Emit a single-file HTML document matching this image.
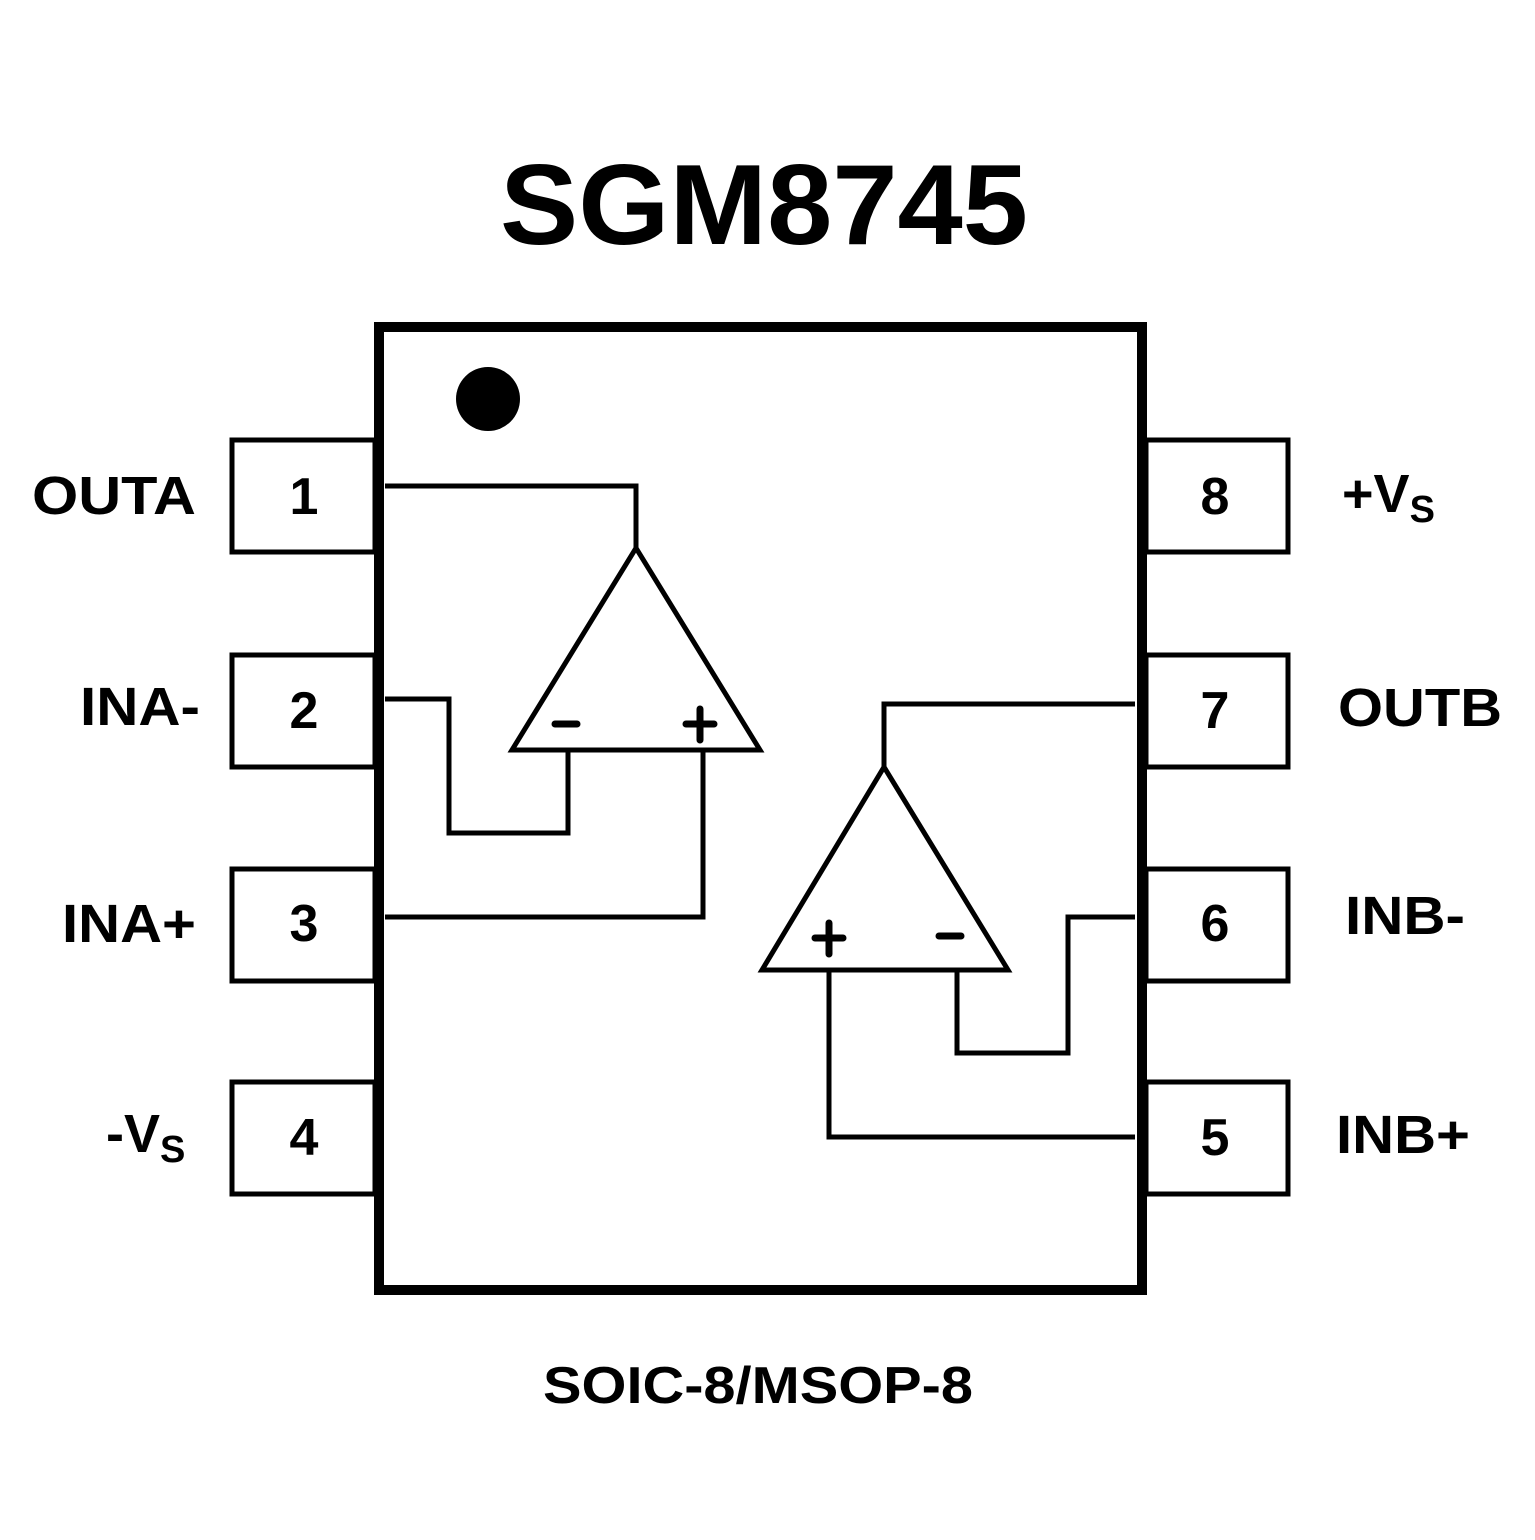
<!DOCTYPE html>
<html><head><meta charset="utf-8"><style>html,body{margin:0;padding:0;background:#fff}</style></head>
<body>
<svg width="1535" height="1535" viewBox="0 0 1535 1535" xmlns="http://www.w3.org/2000/svg" font-family="'Liberation Sans',Arial,sans-serif" font-weight="bold">
<rect width="1535" height="1535" fill="#fff"/>
<text x="500" y="244" font-size="114" textLength="528" lengthAdjust="spacingAndGlyphs">SGM8745</text>
<g fill="none" stroke="#000" stroke-linejoin="miter">
<rect x="379" y="327" width="763" height="963" stroke-width="10"/>
<g stroke-width="5">
<rect x="232" y="440" width="143" height="112"/>
<rect x="232" y="655" width="143" height="112"/>
<rect x="232" y="869" width="143" height="112"/>
<rect x="232" y="1082" width="143" height="112"/>
<rect x="1146" y="440" width="142" height="112"/>
<rect x="1146" y="655" width="142" height="112"/>
<rect x="1146" y="869" width="142" height="112"/>
<rect x="1146" y="1082" width="142" height="112"/>
<polygon points="636,548 512,750 760,750"/>
<polyline points="385,486 636,486 636,548"/>
<polyline points="568,750 568,833 449,833 449,699 385,699"/>
<polyline points="703,750 703,917 385,917"/>
<polygon points="884,767 762,970 1008,970"/>
<polyline points="884,767 884,704 1135,704"/>
<polyline points="829,970 829,1137 1135,1137"/>
<polyline points="957,970 957,1053 1068,1053 1068,917 1135,917"/>
</g>
<g stroke-width="7" stroke-linecap="round">
<path d="M555 724H577"/>
<path d="M686 724H714M700 709V740"/>
<path d="M815 938H843M829 923V954"/>
<path d="M939 936H961"/>
</g>
</g>
<circle cx="488" cy="399" r="32" fill="#000"/>
<g font-size="52" text-anchor="middle">
<text x="304" y="514">1</text><text x="304" y="728">2</text><text x="304" y="941">3</text><text x="304" y="1155">4</text>
<text x="1215" y="514">8</text><text x="1215" y="728">7</text><text x="1215" y="941">6</text><text x="1215" y="1155">5</text>
</g>
<g font-size="54">
<text x="32" y="514" textLength="164" lengthAdjust="spacingAndGlyphs">OUTA</text>
<text x="80" y="725" textLength="120" lengthAdjust="spacingAndGlyphs">INA-</text>
<text x="62" y="942" textLength="134" lengthAdjust="spacingAndGlyphs">INA+</text>
<text x="106" y="1152">-V<tspan font-size="38" dy="10">S</tspan></text>
<text x="1342" y="512">+V<tspan font-size="38" dy="10">S</tspan></text>
<text x="1338" y="726" textLength="164" lengthAdjust="spacingAndGlyphs">OUTB</text>
<text x="1345" y="934" textLength="120" lengthAdjust="spacingAndGlyphs">INB-</text>
<text x="1336" y="1153" textLength="134" lengthAdjust="spacingAndGlyphs">INB+</text>
</g>
<text x="543" y="1403" font-size="52" textLength="430" lengthAdjust="spacingAndGlyphs">SOIC-8/MSOP-8</text>
</svg>
</body></html>
